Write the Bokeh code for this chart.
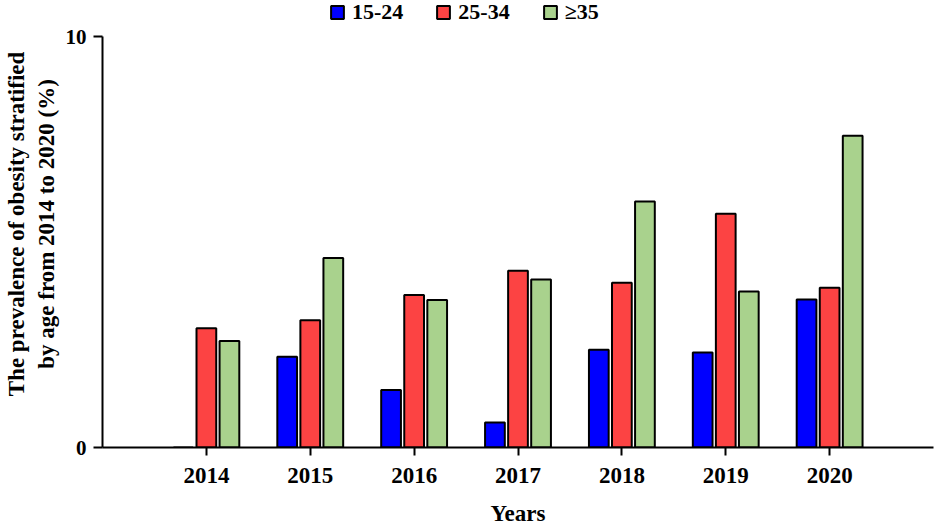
from bokeh.plotting import figure
from bokeh.models import ColumnDataSource, FactorRange, Range1d, FixedTicker, Legend, LegendItem
from bokeh.transform import dodge
from bokeh.embed import file_html
from bokeh.resources import INLINE

years = ["2014", "2015", "2016", "2017", "2018", "2019", "2020"]
age_15_24 = [0.0, 2.21, 1.40, 0.61, 2.38, 2.31, 3.60]
age_25_34 = [2.90, 3.10, 3.71, 4.30, 4.01, 5.69, 3.89]
age_35_up = [2.59, 4.61, 3.59, 4.09, 5.99, 3.80, 7.59]
series_labels = ["15-24", "25-34", "\u226535"]
colors = ["#0000FF", "#FC4343", "#A9D28D"]
y_ticks = [0, 10]

FONT = "Liberation Serif"

source = ColumnDataSource(data=dict(years=years, a=age_15_24, b=age_25_34, c=age_35_up))

p = figure(frame_width=831, frame_height=447, output_backend="svg", toolbar_location=None,
           x_range=FactorRange(*years, range_padding=0.5, range_padding_units="absolute"),
           y_range=Range1d(0, 10.88),
           min_border_left=98, min_border_right=3, min_border_top=0, min_border_bottom=76)

renderers = []
for key, off, col in zip(["a", "b", "c"], [-0.222, 0.0, 0.222], colors):
    r = p.vbar(x=dodge("years", off, range=p.x_range), top=key, width=0.19, source=source,
               fill_color=col, line_color="black", line_width=2)
    renderers.append(r)

legend = Legend(items=[LegendItem(label=l, renderers=[r]) for l, r in zip(series_labels, renderers)],
                orientation="horizontal", location=(227, 422),
                label_text_font=FONT, label_text_font_style="bold", label_text_font_size="22px",
                label_text_color="black",
                glyph_width=16, glyph_height=16, spacing=32, label_standoff=7,
                padding=0, margin=0, border_line_color=None, background_fill_alpha=0)
p.add_layout(legend, "center")

p.outline_line_color = None
p.xgrid.grid_line_color = None
p.ygrid.grid_line_color = None

p.yaxis.ticker = FixedTicker(ticks=y_ticks)
p.yaxis.bounds = (0, 10)
p.yaxis.minor_tick_line_color = None
p.yaxis.major_tick_in = 0
p.yaxis.major_tick_out = 9
p.yaxis.major_label_standoff = 7
p.yaxis.axis_line_width = 2
p.yaxis.major_tick_line_width = 2
p.yaxis.major_label_text_font = FONT
p.yaxis.major_label_text_font_style = "bold"
p.yaxis.major_label_text_font_size = "21px"
p.yaxis.major_label_text_color = "black"
p.yaxis.axis_label = "The prevalence of obesity stratified\nby age from 2014 to 2020 (%)"
p.yaxis.axis_label_text_font = FONT
p.yaxis.axis_label_text_font_style = "bold"
p.yaxis.axis_label_text_font_size = "23px"
p.yaxis.axis_label_text_color = "black"
p.yaxis.axis_label_standoff = 4

p.xaxis.major_tick_in = 0
p.xaxis.major_tick_out = 8
p.xaxis.major_label_standoff = 12
p.xaxis.axis_line_width = 2
p.xaxis.major_tick_line_width = 2
p.xaxis.major_label_text_font = FONT
p.xaxis.major_label_text_font_style = "bold"
p.xaxis.major_label_text_font_size = "23px"
p.xaxis.major_label_text_color = "black"
p.xaxis.axis_label = "Years"
p.xaxis.axis_label_text_font = FONT
p.xaxis.axis_label_text_font_style = "bold"
p.xaxis.axis_label_text_font_size = "23px"
p.xaxis.axis_label_text_color = "black"
p.xaxis.axis_label_standoff = 15

open("out.html", "w").write(file_html(p, INLINE))
